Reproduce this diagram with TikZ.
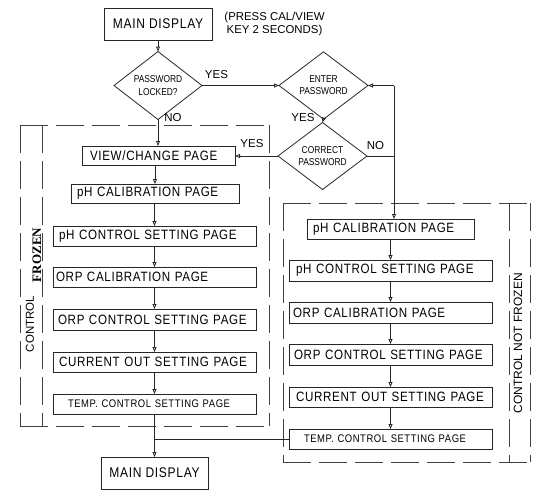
\documentclass[tikz,border=0pt]{standalone}
\usepackage{fontspec}
\setmainfont{Liberation Sans}
\newfontfamily\boxf{Liberation Sans}[FakeStretch=0.86,LetterSpace=5]
\newfontfamily\dmf{Liberation Sans}[FakeStretch=0.84]
\newfontfamily\frzf{Liberation Serif}
\usetikzlibrary{shapes.geometric,arrows.meta}
\begin{document}
\begin{tikzpicture}[x=1pt,y=-1pt,
  every node/.style={inner sep=0pt,outer sep=0pt},
  ln/.style={line width=0.8pt,draw=black!85},
  pg/.style={ln,draw,align=left,inner ysep=0pt,font=\boxf\fontsize{13.5}{14}\selectfont},
  smallpg/.style={pg,font=\boxf\fontsize{11}{12}\selectfont},
  mainbox/.style={ln,draw,minimum width=108pt,minimum height=32pt,font=\boxf\fontsize{14}{15}\selectfont},
  dia/.style={ln,draw,diamond,align=center,font=\dmf\fontsize{10}{12.5}\selectfont},
  arr/.style={ln,-{Triangle[open,length=5pt,width=4pt]}},
  lab/.style={font=\fontsize{11.5}{12}\selectfont},
  dsh/.style={line width=0.8pt,draw=black!75,dash pattern=on 28pt off 8pt}
]
\useasboundingbox (0,0) rectangle (543,496);

% dashed frames
\draw[dsh] (20,125) -- (269,125);
\draw[dsh] (20,125) -- (20,426);
\draw[dsh] (42,125) -- (42,426);
\draw[dsh] (269,125) -- (269,426);
\draw[dsh] (20,426) -- (269,426);
\draw[dsh] (283,203) -- (530,203);
\draw[dsh] (283,203) -- (283,462);
\draw[dsh] (509,203) -- (509,462);
\draw[dsh] (530,203) -- (530,462);
\draw[dsh] (283,462) -- (530,462);

\node[rotate=90,font=\fontsize{11.5}{12}\selectfont] (ctl) at (30,324) {CONTROL};
\node[rotate=90,font=\frzf\bfseries\fontsize{13}{14}\selectfont] (frz) at (37,255) {FROZEN};
\node[rotate=90,font=\fontsize{12}{13}\selectfont] (cnf) at (518,343) {CONTROL NOT FROZEN};

% top
\node[mainbox] (top) at (158,24) {MAIN DISPLAY};
\node[align=center,font=\fontsize{11.4}{13}\selectfont] (note) at (274.5,24.5) {(PRESS CAL/VIEW\\KEY 2 SECONDS)};

\node[dia,minimum width=88pt,minimum height=55pt] (d1) at (158,85.5) {PASSWORD\\LOCKED?};
\node[dia,minimum width=89pt,minimum height=55pt,font=\dmf\fontsize{10}{12}\selectfont] (d2) at (323.5,85.5) {ENTER\\PASSWORD};
\node[dia,minimum width=89pt,minimum height=56pt,font=\dmf\fontsize{10}{11.5}\selectfont] (d3) at (322.5,156) {CORRECT\\PASSWORD};

% left column
\node[pg,text width=137pt,inner xsep=8pt,minimum height=19pt] (vc) at (158.5,155.5) {\mbox{VIEW/CHANGE PAGE}};
\node[pg,text width=156pt,inner xsep=6pt,minimum height=19pt] (lpc) at (155,193.5) {\mbox{pH CALIBRATION PAGE}};
\node[pg,text width=191pt,inner xsep=6pt,minimum height=20pt] (lpcs) at (154.5,236) {\mbox{pH CONTROL SETTING PAGE}};
\node[pg,text width=197pt,inner xsep=3pt,minimum height=20pt] (lorc) at (154.5,277) {\mbox{ORP CALIBRATION PAGE}};
\node[pg,text width=193pt,inner xsep=5pt,minimum height=21pt] (lorcs) at (154.5,319.5) {\mbox{ORP CONTROL SETTING PAGE}};
\node[pg,text width=191pt,inner xsep=6pt,minimum height=20pt] (lcur) at (154.5,362) {\mbox{CURRENT OUT SETTING PAGE}};
\node[smallpg,text width=173pt,inner xsep=15pt,minimum height=20pt] (ltemp) at (154.5,404) {\mbox{TEMP. CONTROL SETTING PAGE}};
\node[mainbox,minimum width=107pt] (bot) at (154.5,473) {MAIN DISPLAY};

% right column
\node[pg,text width=155pt,inner xsep=6pt,minimum height=20pt] (rpc) at (390.5,229) {\mbox{pH CALIBRATION PAGE}};
\node[pg,text width=189pt,inner xsep=7pt,minimum height=21pt] (rpcs) at (390.5,270.5) {\mbox{pH CONTROL SETTING PAGE}};
\node[pg,text width=195pt,inner xsep=4pt,minimum height=21pt] (rorc) at (390.5,312.5) {\mbox{ORP CALIBRATION PAGE}};
\node[pg,text width=193pt,inner xsep=5pt,minimum height=21pt] (rorcs) at (390.5,354.5) {\mbox{ORP CONTROL SETTING PAGE}};
\node[pg,text width=189pt,inner xsep=7pt,minimum height=20pt] (rcur) at (390.5,397) {\mbox{CURRENT OUT SETTING PAGE}};
\node[smallpg,text width=173pt,inner xsep=15pt,minimum height=20pt] (rtemp) at (390.5,439) {\mbox{TEMP. CONTROL SETTING PAGE}};

% labels
\node[lab] (yes1) at (216.5,75) {YES};
\node[lab] (no1) at (173,118) {NO};
\node[lab] (yes2) at (303,118) {YES};
\node[lab] (no2) at (375.5,146) {NO};
\node[lab] (yes3) at (252,144) {YES};

% connectors
\coordinate (c1) at (394,85.5);
\coordinate (c2) at (394,156);
\coordinate (j) at (154.5,439);
\draw[arr] (top.south) -- (d1.north);
\draw[arr] (d1.east) -- (d2.west);
\draw[arr] (c1) -- (d2.east);
\draw[ln] (d3.east) -- (c2);
\draw[arr] (c1) -- (c1 |- rpc.north);
\draw[arr] (d2.south) -- (d3.north);
\draw[arr] (d3.west) -- (d3.west -| vc.east);
\draw[arr] (d1.south) -- (d1.south |- vc.north);
\draw[arr] (vc.south -| lpc.north) -- (lpc.north);
\draw[arr] (lpc.south -| lpcs.north) -- (lpcs.north);
\draw[arr] (lpcs.south) -- (lorc.north);
\draw[arr] (lorc.south) -- (lorcs.north);
\draw[arr] (lorcs.south) -- (lcur.north);
\draw[arr] (lcur.south) -- (ltemp.north);
\draw[arr] (ltemp.south) -- (bot.north);
\draw[ln] (j) -- (rtemp.west);
\draw[arr] (rpc.south) -- (rpcs.north);
\draw[arr] (rpcs.south) -- (rorc.north);
\draw[arr] (rorc.south) -- (rorcs.north);
\draw[arr] (rorcs.south) -- (rcur.north);
\draw[arr] (rcur.south) -- (rtemp.north);
\end{tikzpicture}
\end{document}
